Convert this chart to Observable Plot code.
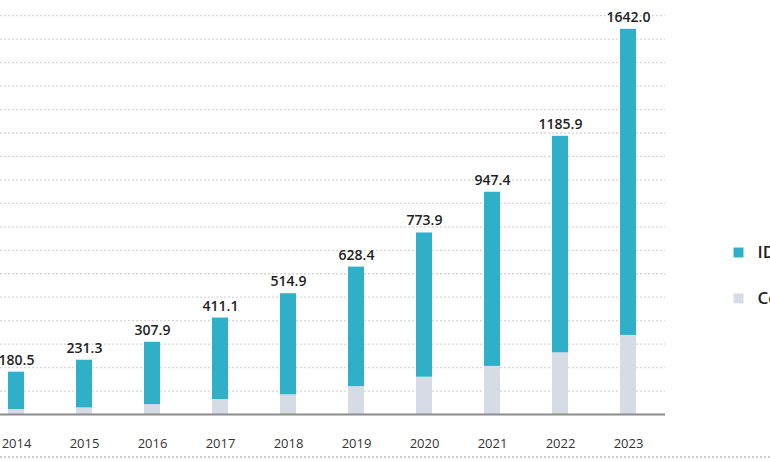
<!DOCTYPE html>
<html>
<head>
<meta charset="utf-8">
<script src="https://cdn.jsdelivr.net/npm/d3@7"></script>
<script src="https://cdn.jsdelivr.net/npm/@observablehq/plot@0.6"></script>
<style>
  html, body { margin: 0; padding: 0; background: #fff; }
  #wrap { position: relative; width: 770px; height: 461px; overflow: hidden; }
  #dots { position: absolute; left: 0; top: 456px; width: 770px; border-top: 2px dotted #cfcfcf; }
</style>
</head>
<body>
<div id="wrap"><div id="dots"></div></div>
<script>
const years = ["2014","2015","2016","2017","2018","2019","2020","2021","2022","2023"];
const totals = [180.5, 231.3, 307.9, 411.1, 514.9, 628.4, 773.9, 947.4, 1185.9, 1642.0];
const lower = [21, 28, 42, 64, 84, 119, 159, 205, 263, 337];
const seriesNames = ["IDC", "Cost"];
const gridTicks = d3.range(100, 1800, 100);

const rows = years.map((y, i) => ({year: y, total: totals[i], lower: lower[i]}));
const teal = "#2fb0c8";
const grey = "#d5dce6";

const chart = Plot.plot({
  width: 770,
  height: 461,
  marginLeft: 0,
  marginRight: 105,
  marginTop: 0,
  marginBottom: 47,
  style: {fontFamily: "'Open Sans', sans-serif", background: "transparent"},
  x: {domain: years, range: [-18, 662], paddingInner: 0.765, paddingOuter: 0.3825, axis: null},
  y: {domain: [0, 1700], range: [414, 15.2], axis: null},
  marks: [
    Plot.ruleY(gridTicks, {stroke: "#d6d6d6", strokeWidth: 1.3, strokeDasharray: "2,2"}),
    Plot.barY(rows, {x: "year", y1: 0, y2: "lower", fill: grey}),
    Plot.barY(rows, {x: "year", y1: "lower", y2: "total", fill: teal}),
    Plot.ruleY([0], {stroke: "#8c8c8c", strokeWidth: 2}),
    Plot.text(rows, {x: "year", y: "total", text: d => d.total.toFixed(1), dy: -12, lineAnchor: "middle", fontSize: 14, fontWeight: 600, fill: "#1e1e1e"}),
    Plot.text(rows, {x: "year", y: 0, text: "year", dy: 29, lineAnchor: "middle", fontSize: 13, fill: "#333"}),
    Plot.dot([0], {frameAnchor: "top-right", dx: 73, dy: 252, symbol: "square", r: 5.6, fill: teal}),
    Plot.dot([0], {frameAnchor: "top-right", dx: 73, dy: 298, symbol: "square", r: 5.6, fill: grey}),
    Plot.text([seriesNames[0]], {frameAnchor: "top-right", dx: 92, dy: 252, text: d => d, textAnchor: "start", lineAnchor: "middle", fontSize: 17, fontWeight: 600, fill: "#1e1e1e"}),
    Plot.text([seriesNames[1]], {frameAnchor: "top-right", dx: 92, dy: 298, text: d => d, textAnchor: "start", lineAnchor: "middle", fontSize: 17, fontWeight: 600, fill: "#1e1e1e"})
  ]
});
chart.style.position = "absolute";
chart.style.left = "0";
chart.style.top = "0";
document.getElementById("wrap").appendChild(chart);
</script>
</body>
</html>
